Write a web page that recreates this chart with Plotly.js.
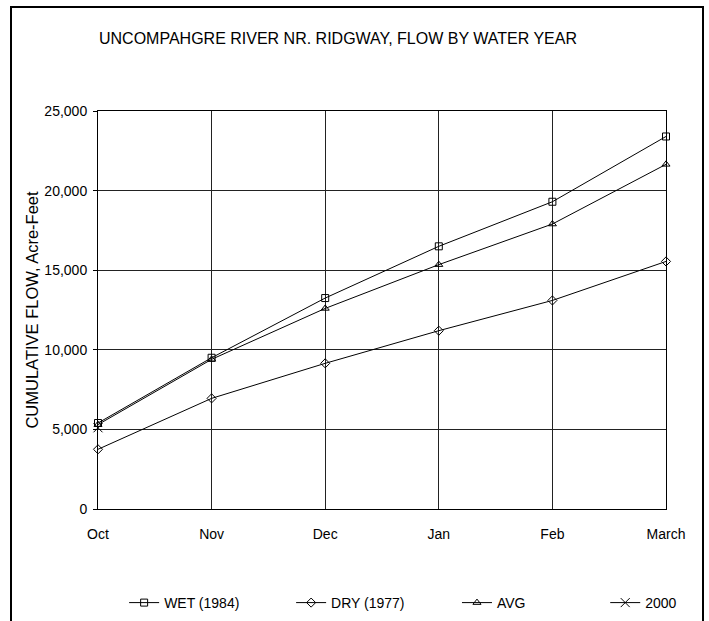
<!DOCTYPE html>
<html>
<head>
<meta charset="utf-8">
<script src="https://cdn.plot.ly/plotly-3.0.1.min.js"></script>
<style>
html,body{margin:0;padding:0;background:#fff;}
#chart{width:709px;height:621px;}
</style>
</head>
<body>
<div id="chart"></div>
<script>
const months = ['Oct', 'Nov', 'Dec', 'Jan', 'Feb', 'March'];
const wet1984 = [5400, 9500, 13250, 16500, 19300, 23400];
const dry1977 = [3750, 6950, 9150, 11200, 13100, 15550];
const avgFlow = [5300, 9400, 12600, 15350, 17900, 21650];
const wy2000 = [5100, null, null, null, null, null];
const yTicks = [0, 5000, 10000, 15000, 20000, 25000];

const FONT = 'Liberation Sans, Arial, sans-serif';

function series(name, y, symbol, size, legendId) {
  return {
    type: 'scatter', mode: 'lines+markers', name: name,
    x: months, y: y, legend: legendId,
    line: {color: '#000', width: 1},
    marker: {symbol: symbol, size: size, color: '#000', line: {color: '#000', width: 1}},
    cliponaxis: false
  };
}

const traces = [
  series('WET (1984)', wet1984, 'square-open', 7, 'legend'),
  series('DRY (1977)', dry1977, 'diamond-open', 7, 'legend2'),
  series('AVG', avgFlow, 'triangle-up-open', 7, 'legend3'),
  series('2000', wy2000, 'x-thin-open', 9, 'legend4')
];

function leg(x) {
  return {x: x, xref: 'paper', y: 1 - 603 / 621, yref: 'container',
          xanchor: 'left', yanchor: 'middle', orientation: 'h',
          font: {family: FONT, size: 14, color: '#000'}, bgcolor: 'rgba(0,0,0,0)'};
}

const layout = {
  width: 709, height: 621,
  margin: {l: 98, r: 43, t: 111, b: 112},
  paper_bgcolor: '#fff', plot_bgcolor: '#fff',
  font: {family: FONT, size: 14, color: '#000'},
  title: {text: 'UNCOMPAHGRE RIVER NR. RIDGWAY, FLOW BY WATER YEAR',
          font: {family: FONT, size: 16, color: '#000'},
          x: 0.4767, xref: 'container', xanchor: 'center',
          y: 1 - 38/621, yref: 'container', yanchor: 'middle'},
  xaxis: {type: 'category', range: [0, 5], showgrid: true, gridcolor: '#222', gridwidth: 1,
          showline: true, linecolor: '#000', linewidth: 1, mirror: true,
          ticks: '', ticklabelstandoff: 12, zeroline: false, automargin: false,
          tickfont: {family: FONT, size: 14, color: '#000'}},
  yaxis: {range: [0, 25000], tickvals: yTicks, tickformat: ',', showgrid: true,
          gridcolor: '#222', gridwidth: 1, showline: true, linecolor: '#000', linewidth: 1,
          mirror: true, ticks: 'outside', ticklen: 4, tickcolor: '#000', zeroline: false,
          ticklabelstandoff: 3, automargin: false,
          tickfont: {family: FONT, size: 14, color: '#000'},
          title: {text: 'CUMULATIVE FLOW, Acre-Feet', standoff: 1,
                  font: {family: FONT, size: 16.5, color: '#000'}}},
  showlegend: true,
  legend: leg(0.046), legend2: leg(0.340), legend3: leg(0.632), legend4: leg(0.893),
  shapes: [{type: 'rect', xref: 'paper', yref: 'paper',
            x0: (11 - 98) / 568, x1: (703 - 98) / 568,
            y0: (509 - 640) / 398, y1: (509 - 7) / 398,
            line: {color: '#000', width: 2}, fillcolor: 'rgba(0,0,0,0)', layer: 'below'}]
};

Plotly.newPlot('chart', traces, layout, {displayModeBar: false, staticPlot: true});
</script>
</body>
</html>
